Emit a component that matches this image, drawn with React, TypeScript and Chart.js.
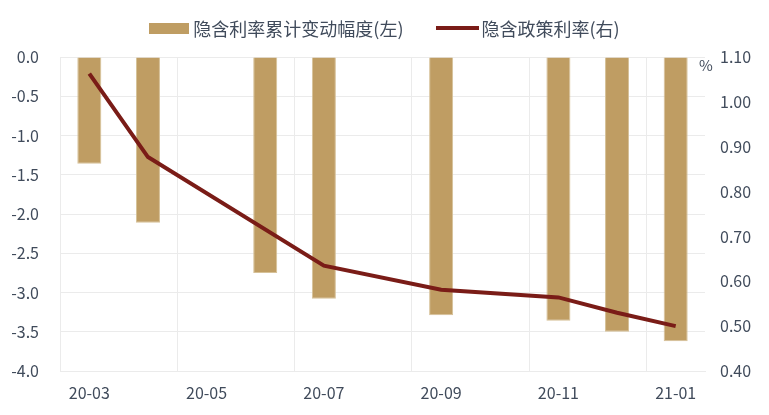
import { useRef, useEffect } from 'react'
import { Chart, registerables } from 'chart.js'

Chart.register(...registerables)

const MONTHS = ['20-03', '20-04', '20-05', '20-06', '20-07', '20-08', '20-09', '20-10', '20-11', '20-12', '21-01']
// 隐含利率累计变动幅度 (left axis)
const CUM_CHANGE = [-1.36, -2.11, null, -2.75, -3.08, null, -3.29, null, -3.36, -3.50, -3.62]
// 隐含政策利率 (right axis, %)
const POLICY_RATE = [1.063, 0.877, null, null, 0.635, null, 0.581, null, 0.564, 0.53, 0.50]

const BAR_LABEL = '隐含利率累计变动幅度(左)'
const LINE_LABEL = '隐含政策利率(右)'

const BAR_COLOR = '#bf9d63'
const LINE_COLOR = '#7a1c17'
const TEXT = '#404b5b'
const GRID = '#ebebeb'
const FONT = '"Noto Sans CJK SC", "Noto Sans", sans-serif'

export default function App() {
  const canvasRef = useRef<HTMLCanvasElement>(null)
  const chartRef = useRef<Chart | null>(null)

  useEffect(() => {
    if (!canvasRef.current) return
    if (chartRef.current) chartRef.current.destroy()

    chartRef.current = new Chart(canvasRef.current, {
      type: 'bar',
      data: {
        labels: MONTHS,
        datasets: [
          {
            type: 'line',
            label: LINE_LABEL,
            data: POLICY_RATE,
            yAxisID: 'y1',
            borderColor: LINE_COLOR,
            backgroundColor: LINE_COLOR,
            borderWidth: 4,
            pointRadius: 0,
            spanGaps: true,
            tension: 0,
            order: 0,
          },
          {
            type: 'bar',
            label: BAR_LABEL,
            data: CUM_CHANGE,
            yAxisID: 'y',
            backgroundColor: BAR_COLOR,
            borderColor: '#d6c198',
            borderWidth: 1,
            barPercentage: 0.41,
            categoryPercentage: 1,
            order: 1,
          },
        ],
      },
      options: {
        responsive: true,
        maintainAspectRatio: false,
        animation: false,
        layout: { padding: { top: 57, left: 0, right: 0, bottom: 0 } },
        plugins: {
          legend: { display: false },
          tooltip: { enabled: false },
        },
        scales: {
          x: {
            offset: true,
            grid: {
              offset: true,
              drawTicks: false,
              color: ctx => (ctx.index % 2 === 0 ? GRID : 'rgba(0,0,0,0)'),
            },
            border: { color: GRID },
            ticks: {
              autoSkip: false,
              maxRotation: 0,
              padding: 12,
              color: TEXT,
              font: { family: FONT, size: 16 },
              callback: (_v, i) => (i % 2 === 0 ? MONTHS[i] : ''),
            },
            afterFit: s => { s.height = 44 },
          },
          y: {
            position: 'left',
            min: -4,
            max: 0,
            grid: { color: GRID, drawTicks: false },
            border: { color: GRID },
            ticks: {
              stepSize: 0.5,
              padding: 21,
              color: TEXT,
              font: { family: FONT, size: 16 },
              callback: v => Number(v).toFixed(1),
            },
            afterFit: s => { s.width = 60 },
          },
          y1: {
            position: 'right',
            min: 0.4,
            max: 1.1,
            grid: { display: false, drawTicks: false },
            border: { display: false },
            ticks: {
              stepSize: 0.1,
              padding: 15,
              color: TEXT,
              font: { family: FONT, size: 16 },
              callback: v => Number(v).toFixed(2),
            },
            afterFit: s => { s.width = 64 },
          },
        },
      },
    })

    return () => { chartRef.current?.destroy() }
  }, [])

  return (
    <div style={{ position: 'absolute', left: 0, top: 0, width: 769, height: 415, background: '#fff', fontFamily: FONT }}>
      <canvas ref={canvasRef} />

      {/* Legend */}
      <div
        style={{
          position: 'absolute',
          top: 17,
          left: 0,
          right: 0,
          display: 'flex',
          justifyContent: 'center',
          alignItems: 'center',
          height: 22,
          fontSize: 18,
          color: TEXT,
          whiteSpace: 'nowrap',
        }}
      >
        <span style={{ width: 40, height: 11, background: BAR_COLOR, display: 'inline-block', marginRight: 4 }} />
        <span>{BAR_LABEL}</span>
        <span style={{ width: 43, height: 4, background: LINE_COLOR, display: 'inline-block', marginLeft: 32, marginRight: 3 }} />
        <span>{LINE_LABEL}</span>
      </div>

      {/* unit label of the right axis */}
      <div style={{ position: 'absolute', left: 699, top: 54, fontSize: 15, color: TEXT }}>%</div>
    </div>
  )
}
